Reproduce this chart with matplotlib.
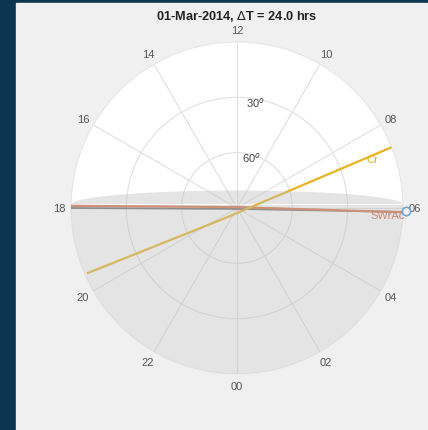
import numpy as np
import matplotlib.pyplot as plt
from matplotlib.patches import Rectangle

plt.rcParams['font.family'] = ['Liberation Sans', 'DejaVu Sans']

# sky tracks: hour of day and elevation (deg)
cr_hours = [19.57, 20.55, 7.43]
cr_elev = [1.9, 80.4, 0.0]

sw_hours = [17.95, 12.0, 5.9]
sw_elev = [0.0, 89.5, 1.6]

ref_hours = [18.0, 0.0, 5.91]
ref_elev = [0.0, 89.5, 0.0]

marker_hour = 5.93
marker_elev = -1.6

hour_ticks = np.arange(0, 24, 2)
hour_labels = ['%02d' % h for h in hour_ticks]
elev_rings = [30, 60]

title = '01-Mar-2014, $\\Delta$T = 24.0 hrs'


def th(h):
    return np.deg2rad(np.asarray(h) * 15.0)


def zen(e):
    return 90.0 - np.asarray(e)


fig = plt.figure(figsize=(4.28, 4.31), dpi=100)
fig.patch.set_facecolor('#0b3550')
fig.add_artist(Rectangle((16 / 428, 0), (427 - 16) / 428, 427 / 431,
                         transform=fig.transFigure, color='#f0f0f0', zorder=-10))

ax = fig.add_axes([71 / 428, (222 - 166) / 431, 332 / 428, 332 / 431],
                  projection='polar')
ax.set_theta_zero_location('S')
ax.set_theta_direction(1)
ax.set_facecolor('white')
ax.set_rlim(0, 90)

ax.set_thetagrids(hour_ticks * 15, hour_labels, color='#555555', fontsize=8)
ax.tick_params(axis='x', pad=-2)
ax.set_rticks([90 - e for e in elev_rings])
ax.set_yticklabels([])
ax.grid(color='#e0e0e0', linewidth=0.8)
ax.spines['polar'].set_color('#e6e6e6')
ax.spines['polar'].set_linewidth(0.8)

for e in elev_rings:
    ax.text(th(11.7), zen(e) + 1.5, '%d$^o$' % e, ha='left', va='top',
            fontsize=8, color='#444444')

# tracks
ax.plot(th(ref_hours), zen(ref_elev), color='#6e6e6e', lw=1.3, zorder=3)
ax.plot(th(sw_hours), zen(sw_elev), color='#d8744a', lw=1.6, zorder=4)
ax.plot(th(cr_hours), zen(cr_elev), color='#e6b422', lw=1.6, zorder=4)

# earth shadow: ellipse-bounded region below the horizon
u = np.linspace(-1, 1, 200)
yb = 0.021 + 0.084 * np.sqrt(1 - u ** 2)
xb = u * np.sqrt(1 - yb ** 2)
phi_b = np.arctan2(yb, xb)
r_b = np.hypot(xb, yb) * 90
arc = np.linspace(phi_b[-1], phi_b[0] - 2 * np.pi, 200)
phis = np.concatenate([phi_b[::-1], arc])
rs = np.concatenate([r_b[::-1], np.full(arc.size, 90.0)])
ax.fill(phis + np.pi / 2, rs, color='#bdbdbd', alpha=0.4, lw=0, zorder=5)

ax.text(th(7.33), 78, 'Cr', color='#e6b422', fontsize=8, ha='center', va='center', zorder=6)
ax.text(th(5.83), 82, 'SWrAc', color='#c98a7a', fontsize=8, ha='center', va='center', zorder=6)
ax.plot(th(marker_hour), zen(marker_elev), 'o', mfc='none', mec='#6fa8dc',
        ms=6, mew=1.2, clip_on=False, zorder=7)

fig.text(237 / 428, 1 - 16 / 431, title, ha='center', va='center',
         fontsize=9.2, fontweight='bold', color='#222222')

plt.savefig('out.png', dpi=100, facecolor=fig.get_facecolor())
